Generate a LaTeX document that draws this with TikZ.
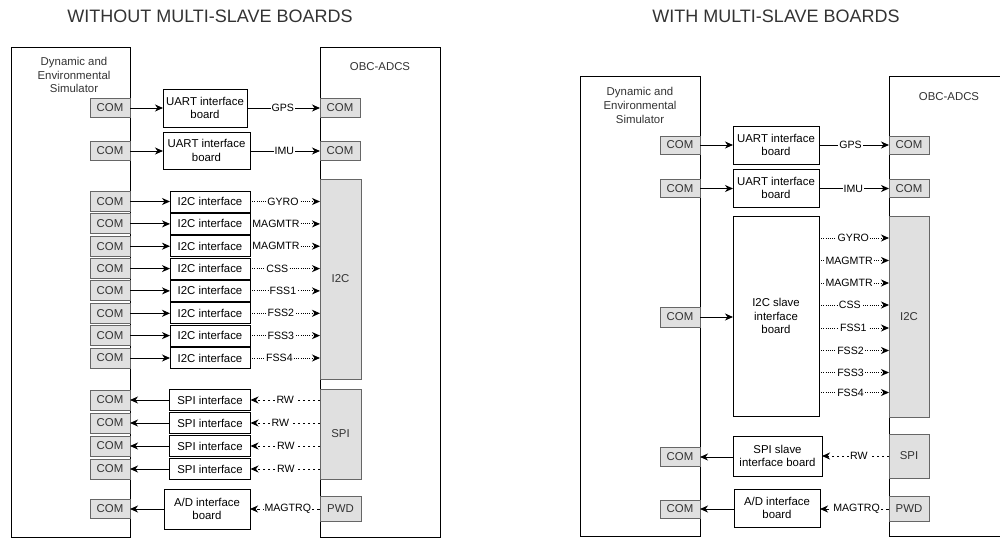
\documentclass[tikz,border=0pt]{standalone}
\usepackage{fontspec}
\setmainfont{Liberation Sans}
\usetikzlibrary{arrows.meta}
\definecolor{comfill}{HTML}{E0E0E0}
\definecolor{comdraw}{HTML}{666666}
\definecolor{txtgray}{HTML}{333333}
\begin{document}
\begin{tikzpicture}[x=1pt,y=-1pt,
  every node/.style={font=\fontsize{11.4}{13.3}\selectfont, inner sep=0pt, outer sep=0pt},
  bigbox/.style={draw=black, line width=1pt, fill=white},
  combox/.style={draw=comdraw, fill=comfill, line width=1pt, text=txtgray, minimum width=40pt, minimum height=19pt},
  ifbox/.style={draw=black, line width=1pt, fill=white, align=center},
  arr/.style={line width=1pt, -{Stealth[length=8pt,width=7pt,inset=2.5pt]}},
  dotarr/.style={arr, dash pattern=on 1pt off 1.2pt},
  dasharr/.style={arr, dash pattern=on 2pt off 3pt},
  lbl/.style={fill=white, inner sep=1pt, text=black, font=\fontsize{10.6}{12}\selectfont},
  ttl/.style={font=\fontsize{18}{20}\selectfont, text=txtgray},
  bigtxt/.style={align=center, text=txtgray, font=\fontsize{11.4}{13.8}\selectfont}
]
\useasboundingbox (0,0) rectangle (1000,538);
\fill[white] (0,0) rectangle (1000,538);

% ================= LEFT DIAGRAM =================
\node[ttl] (t1) at (210,16) {WITHOUT MULTI-SLAVE BOARDS};
\node[bigbox, minimum width=119pt, minimum height=490pt] (simL) at (70.5,292) {};
\node[bigbox, minimum width=120pt, minimum height=490pt] (obcL) at (380,292) {};
\node[bigtxt] (simLt) at (74,75) {Dynamic and\\Environmental\\Simulator};
\node[text=txtgray] (obcLt) at (380,67) {OBC-ADCS};

% UART rows
\node[combox] (lcu1) at (110,108) {COM};
\node[combox] (lcu2) at (110,151) {COM};
\node[ifbox, minimum width=84pt, minimum height=38pt] (ifu1) at (205,108) {UART interface\\board};
\node[ifbox, minimum width=87pt, minimum height=37pt] (ifu2) at (206.5,150.5) {UART interface\\board};
\node[combox] (ocu1) at (340,108) {COM};
\node[combox] (ocu2) at (340,151) {COM};
\draw[arr] (lcu1.east) -- (ifu1.west |- lcu1.east);
\draw[arr] (lcu2.east) -- (ifu2.west |- lcu2.east);
\draw[arr] (ifu1.east |- ocu1.west) -- (ocu1.west) node[lbl,pos=0.49] {GPS};
\draw[arr] (ifu2.east |- ocu2.west) -- (ocu2.west) node[lbl,pos=0.49] {IMU};

% I2C rows
\node[combox, minimum width=41pt, minimum height=200pt] (i2cL) at (340.5,279) {I2C};
\foreach \i/\y/\lab/\p in {1/201.5/GYRO/0.47, 2/223.9/MAGMTR/0.37, 3/246.2/MAGMTR/0.37, 4/268.6/CSS/0.39,
                           5/290.9/FSS1/0.47, 6/313.3/FSS2/0.44, 7/335.6/FSS3/0.44, 8/358/FSS4/0.42}{
  \node[combox, minimum height=20pt] (lci\i) at (110,\y) {COM};
  \node[ifbox, minimum width=80pt, minimum height=21pt] (ifi\i) at (210,\y) {I2C interface};
  \draw[arr] (lci\i.east) -- (ifi\i.west);
  \draw[dotarr] (ifi\i.east) -- (ifi\i.east -| i2cL.west) node[lbl,pos=\p] {\lab};
}

% SPI rows
\node[combox, minimum width=41pt, minimum height=90pt] (spiL) at (340.5,434) {SPI};
\foreach \i/\y/\p in {1/400/0.5, 2/423/0.57, 3/446/0.49, 4/469/0.49}{
  \node[combox, minimum height=20pt] (lcs\i) at (110,\y) {COM};
  \node[ifbox, minimum width=81pt, minimum height=21pt] (ifs\i) at (210,\y) {SPI interface};
  \draw[dasharr] (ifs\i.east -| spiL.west) -- (ifs\i.east) node[lbl,pos=\p] {RW};
  \draw[arr] (ifs\i.west) -- (lcs\i.east);
}

% A/D row
\node[combox, minimum height=19pt] (lca) at (110,509) {COM};
\node[ifbox, minimum width=86pt, minimum height=40pt] (ifa) at (207,509) {A/D interface\\board};
\node[combox, minimum width=41pt, minimum height=25pt] (pwdL) at (340.5,509) {PWD};
\draw[dasharr, dash pattern=on 3pt off 3pt] (pwdL.west) -- (ifa.east |- pwdL.west) node[lbl,pos=0.46] {MAGTRQ};
\draw[arr] (ifa.west |- lca.east) -- (lca.east);

% ================= RIGHT DIAGRAM =================
\node[ttl] (t2) at (776,16) {WITH MULTI-SLAVE BOARDS};
\node[bigbox, minimum width=120pt, minimum height=460pt] (simR) at (640,306) {};
\node[bigbox, minimum width=125pt, minimum height=460pt] (obcR) at (951.5,306) {};
\node[bigtxt] (simRt) at (640,105.5) {Dynamic and\\Environmental\\Simulator};
\node[text=txtgray] (obcRt) at (949,97) {OBC-ADCS};

% UART rows
\node[combox, minimum height=18pt] (rcu1) at (680,145) {COM};
\node[combox, minimum height=18pt] (rcu2) at (680,188.5) {COM};
\node[ifbox, minimum width=86pt, minimum height=38pt] (ru1) at (776,145) {UART interface\\board};
\node[ifbox, minimum width=86pt, minimum height=38pt] (ru2) at (776,188) {UART interface\\board};
\node[combox, minimum height=18pt] (roc1) at (909,145) {COM};
\node[combox, minimum height=18pt] (roc2) at (909,188.5) {COM};
\draw[arr] (rcu1.east) -- (ru1.west |- rcu1.east);
\draw[arr] (rcu2.east) -- (ru2.west |- rcu2.east);
\draw[arr] (ru1.east |- roc1.west) -- (roc1.west) node[lbl,pos=0.45] {GPS};
\draw[arr] (ru2.east |- roc2.west) -- (roc2.west) node[lbl,pos=0.49] {IMU};

% I2C slave
\node[combox, minimum height=20pt] (rci) at (680,317) {COM};
\node[ifbox, minimum width=86pt, minimum height=200pt] (ri2c) at (776,316) {I2C slave\\interface\\board};
\node[combox, minimum width=40pt, minimum height=201pt] (i2cR) at (909,316.5) {I2C};
\draw[arr] (rci.east) -- (ri2c.west |- rci.east);
\foreach \y/\lab/\p in {238/GYRO/0.49, 260.5/MAGMTR/0.43, 283/MAGMTR/0.43, 305/CSS/0.44,
                        328/FSS1/0.49, 350.5/FSS2/0.45, 372.5/FSS3/0.45, 392.5/FSS4/0.45}{
  \draw[dotarr] (ri2c.east |- 0,\y) -- (i2cR.west |- 0,\y) node[lbl,pos=\p] {\lab};
}

% SPI slave
\node[combox, minimum height=19pt] (rcs) at (680,457) {COM};
\node[ifbox, minimum width=89pt, minimum height=40pt] (rspi) at (777.5,456) {SPI slave\\interface board};
\node[combox, minimum width=40pt, minimum height=44pt] (spiR) at (909,456) {SPI};
\draw[dasharr] (spiR.west) -- (rspi.east |- spiR.west) node[lbl,pos=0.45] {RW};
\draw[arr] (rspi.west |- rcs.east) -- (rcs.east);

% A/D
\node[combox, minimum height=18pt] (rca) at (680,509) {COM};
\node[ifbox, minimum width=86pt, minimum height=38pt] (rad) at (777,508) {A/D interface\\board};
\node[combox, minimum width=40pt, minimum height=25pt] (pwdR) at (909,509) {PWD};
\draw[dasharr, dash pattern=on 3pt off 3pt] (pwdR.west) -- (rad.east |- pwdR.west) node[lbl,pos=0.47] {MAGTRQ};
\draw[arr] (rad.west |- rca.east) -- (rca.east);
\end{tikzpicture}
\end{document}
